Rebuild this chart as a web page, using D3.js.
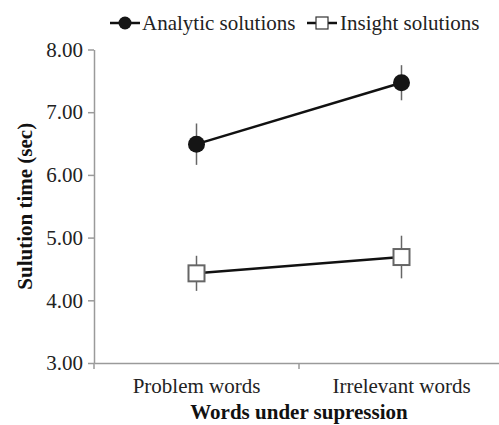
<!DOCTYPE html>
<html>
<head>
<meta charset="utf-8">
<script src="https://cdn.jsdelivr.net/npm/d3@7"></script>
<style>
  body { margin: 0; background: #fff; }
  text { font-family: "Liberation Serif", "Times New Roman", serif; }
</style>
</head>
<body>
<div id="chart"></div>
<script>
// data
let categories = ["Problem words", "Irrelevant words"];
let analytic = [6.49, 7.47];
let analyticErr = [0.33, 0.28];
let insight = [4.43, 4.69];
let insightErr = [0.28, 0.34];
let yTicks = [3, 4, 5, 6, 7, 8];

let width = 499, height = 425;
const svg = d3.select("#chart").append("svg")
    .attr("width", width).attr("height", height);

let x = d3.scaleBand().domain(categories).range([94, 504]).padding(0);
let y = d3.scaleLinear().domain([3, 8]).range([363, 49.5]);

// y axis
let yAxis = svg.append("g")
    .attr("transform", "translate(94,0)")
    .call(d3.axisLeft(y).tickValues(yTicks).tickFormat(d3.format(".2f")).tickSize(6).tickSizeOuter(0).tickPadding(5));
yAxis.select(".domain").attr("stroke", "#9a9a9a").attr("stroke-width", 1.5);
yAxis.selectAll(".tick line").attr("stroke", "#9a9a9a").attr("stroke-width", 1.5);
yAxis.selectAll(".tick text").attr("font-size", 21).attr("fill", "#222")
    .attr("font-family", "Liberation Serif");

// x axis
let xAxis = svg.append("g")
    .attr("transform", "translate(0," + y(3) + ")")
    .call(d3.axisBottom(x).tickSize(0).tickSizeOuter(0).tickPadding(15));
xAxis.select(".domain").attr("stroke", "#9a9a9a").attr("stroke-width", 1.5);
xAxis.selectAll(".tick text").attr("font-size", 21).attr("fill", "#222")
    .attr("font-family", "Liberation Serif");
// boundary ticks between categories
let bounds = [x.range()[0]].concat(categories.map(c => x(c) + x.bandwidth()));
xAxis.selectAll(".bound").data(bounds).enter().append("line")
    .attr("x1", d => d).attr("x2", d => d)
    .attr("y1", 0).attr("y2", 6)
    .attr("stroke", "#9a9a9a").attr("stroke-width", 1.5);

let cx = c => x(c) + x.bandwidth() / 2;
let line = d3.line().x(d => cx(d.cat)).y(d => y(d.v));

function drawSeries(vals, errs, shape) {
    let pts = categories.map((c, i) => ({ cat: c, v: vals[i], e: errs[i] }));
    let g = svg.append("g");
    g.selectAll(".err").data(pts).enter().append("line")
        .attr("x1", d => cx(d.cat)).attr("x2", d => cx(d.cat))
        .attr("y1", d => y(d.v + d.e)).attr("y2", d => y(d.v - d.e))
        .attr("stroke", "#666").attr("stroke-width", 1.5);
    g.append("path").attr("d", line(pts))
        .attr("fill", "none").attr("stroke", "#111").attr("stroke-width", 2.5);
    if (shape == "circle") {
        g.selectAll(".pt").data(pts).enter().append("circle")
            .attr("cx", d => cx(d.cat)).attr("cy", d => y(d.v))
            .attr("r", 8.5).attr("fill", "#151515");
    } else {
        g.selectAll(".pt").data(pts).enter().append("rect")
            .attr("x", d => cx(d.cat) - 8).attr("y", d => y(d.v) - 8)
            .attr("width", 16).attr("height", 16)
            .attr("fill", "#fff").attr("stroke", "#666").attr("stroke-width", 2);
    }
}
drawSeries(analytic, analyticErr, "circle");
drawSeries(insight, insightErr, "square");

// legend
let legend = svg.append("g").attr("transform", "translate(0,23)");
legend.append("line").attr("x1", 110).attr("x2", 140).attr("y1", 0).attr("y2", 0)
    .attr("stroke", "#111").attr("stroke-width", 2.5);
legend.append("circle").attr("cx", 125).attr("cy", 0).attr("r", 6.5).attr("fill", "#151515");
legend.append("text").attr("x", 142).attr("y", 6.5).attr("font-size", 21).attr("fill", "#222")
    .text("Analytic solutions");
legend.append("line").attr("x1", 307).attr("x2", 337).attr("y1", 0).attr("y2", 0)
    .attr("stroke", "#111").attr("stroke-width", 2.5);
legend.append("rect").attr("x", 316).attr("y", -6).attr("width", 12).attr("height", 12)
    .attr("fill", "#fff").attr("stroke", "#333").attr("stroke-width", 1.2);
legend.append("text").attr("x", 340).attr("y", 6.5).attr("font-size", 21).attr("fill", "#222")
    .text("Insight solutions");

// axis titles
svg.append("text")
    .attr("transform", "translate(32," + ((y(3) + y(8)) / 2) + ") rotate(-90)")
    .attr("text-anchor", "middle").attr("font-size", 21).attr("font-weight", "bold")
    .attr("fill", "#111").text("Sulution time (sec)");
svg.append("text")
    .attr("x", 299).attr("y", 419)
    .attr("text-anchor", "middle").attr("font-size", 21).attr("font-weight", "bold")
    .attr("fill", "#111").text("Words under supression");
</script>
</body>
</html>
